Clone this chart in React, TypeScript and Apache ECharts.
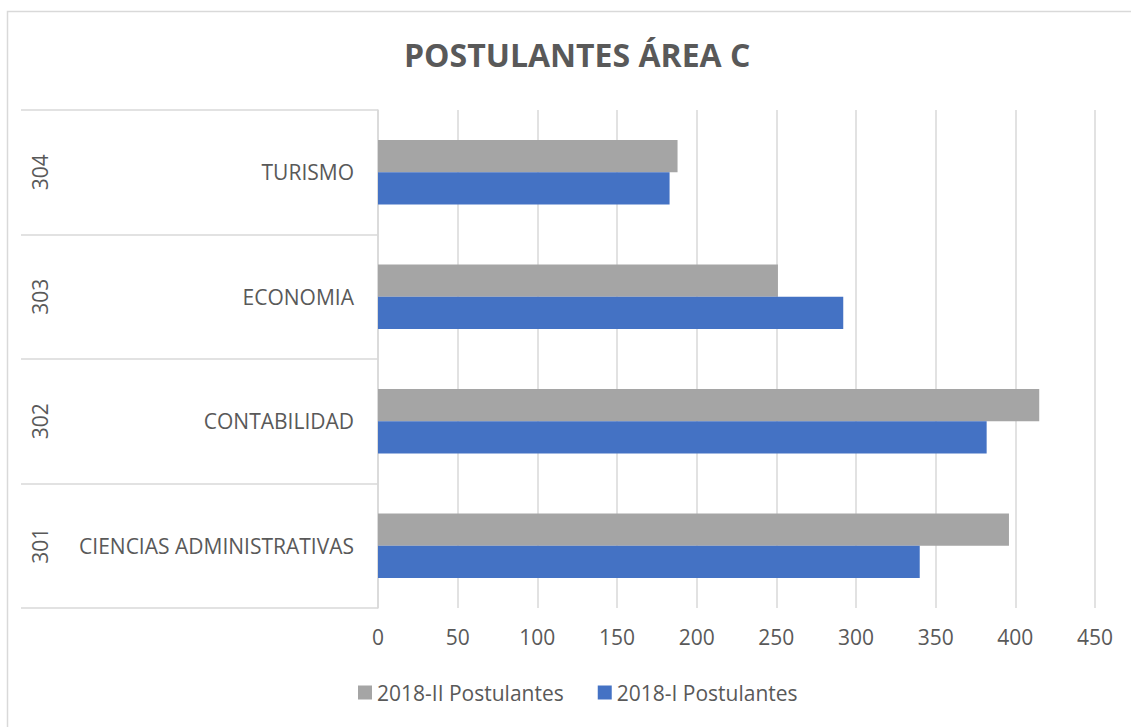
import React, { useEffect, useRef } from "react";
import * as echarts from "echarts";

const categories = ["CIENCIAS ADMINISTRATIVAS", "CONTABILIDAD", "ECONOMIA", "TURISMO"];
const codes = ["301", "302", "303", "304"];
const seriesI = [340, 382, 292, 183];
const seriesII = [396, 415, 251, 188];
const xTicks = { min: 0, max: 450, interval: 50 };
const titleText = "POSTULANTES ÁREA C";
const nameI = "2018-I Postulantes";
const nameII = "2018-II Postulantes";

const FONT = "'Open Sans', sans-serif";
const TXT = "#595959";
const GRID = "#d9d9d9";

export default function App() {
  const ref = useRef<HTMLDivElement>(null);
  useEffect(() => {
    if (!ref.current) return;
    const chart = echarts.init(ref.current, undefined, { renderer: "svg" });
    chart.setOption({
      animation: false,
      backgroundColor: "#ffffff",
      textStyle: { fontFamily: FONT },
      title: {
        text: titleText,
        left: 399,
        top: 33,
        textStyle: { fontFamily: FONT, fontSize: 32, fontWeight: "bold", color: TXT },
      },
      graphic: [
        {
          type: "rect",
          shape: { x: 7.5, y: 11.5, width: 1300, height: 900 },
          style: { fill: "none", stroke: GRID, lineWidth: 1.5 },
          silent: true,
        },
      ],
      legend: {
        left: 353,
        top: 677,
        itemWidth: 14,
        itemHeight: 14,
        itemGap: 34,
        icon: "rect",
        data: [nameII, nameI],
        textStyle: { fontFamily: FONT, fontSize: 21, color: TXT },
      },
      grid: { left: 378, right: 36, top: 110, bottom: 119, containLabel: false },
      xAxis: {
        type: "value",
        min: xTicks.min,
        max: xTicks.max,
        interval: xTicks.interval,
        axisLine: { show: false },
        axisTick: { show: false },
        splitLine: { show: true, lineStyle: { color: GRID, width: 1.5 } },
        axisLabel: { fontFamily: FONT, fontSize: 21, color: TXT, margin: 18 },
      },
      yAxis: [
        {
          type: "category",
          data: categories,
          position: "left",
          axisLine: { show: true, lineStyle: { color: GRID, width: 1.5 } },
          axisTick: { show: true, length: 357, lineStyle: { color: GRID, width: 1.5 } },
          splitLine: { show: false },
          axisLabel: { fontFamily: FONT, fontSize: 21, color: TXT, margin: 24 },
        },
        {
          type: "category",
          data: codes,
          position: "left",
          offset: 0,
          axisLine: { show: false },
          axisTick: { show: false },
          splitLine: { show: false },
          axisLabel: { fontFamily: FONT, fontSize: 21, color: TXT, margin: 328, rotate: 90 },
        },
      ],
      series: [
        {
          name: nameII,
          type: "bar",
          data: seriesII,
          yAxisIndex: 0,
          itemStyle: { color: "#a5a5a5" },
          barGap: "0%",
          barCategoryGap: "48%",
        },
        {
          name: nameI,
          type: "bar",
          data: seriesI,
          yAxisIndex: 0,
          itemStyle: { color: "#4472c4" },
          barGap: "0%",
          barCategoryGap: "48%",
        },
      ],
    });
    return () => chart.dispose();
  }, []);
  return (
    <div
      ref={ref}
      style={{ position: "absolute", left: 0, top: 0, width: 1131, height: 727 }}
    />
  );
}
